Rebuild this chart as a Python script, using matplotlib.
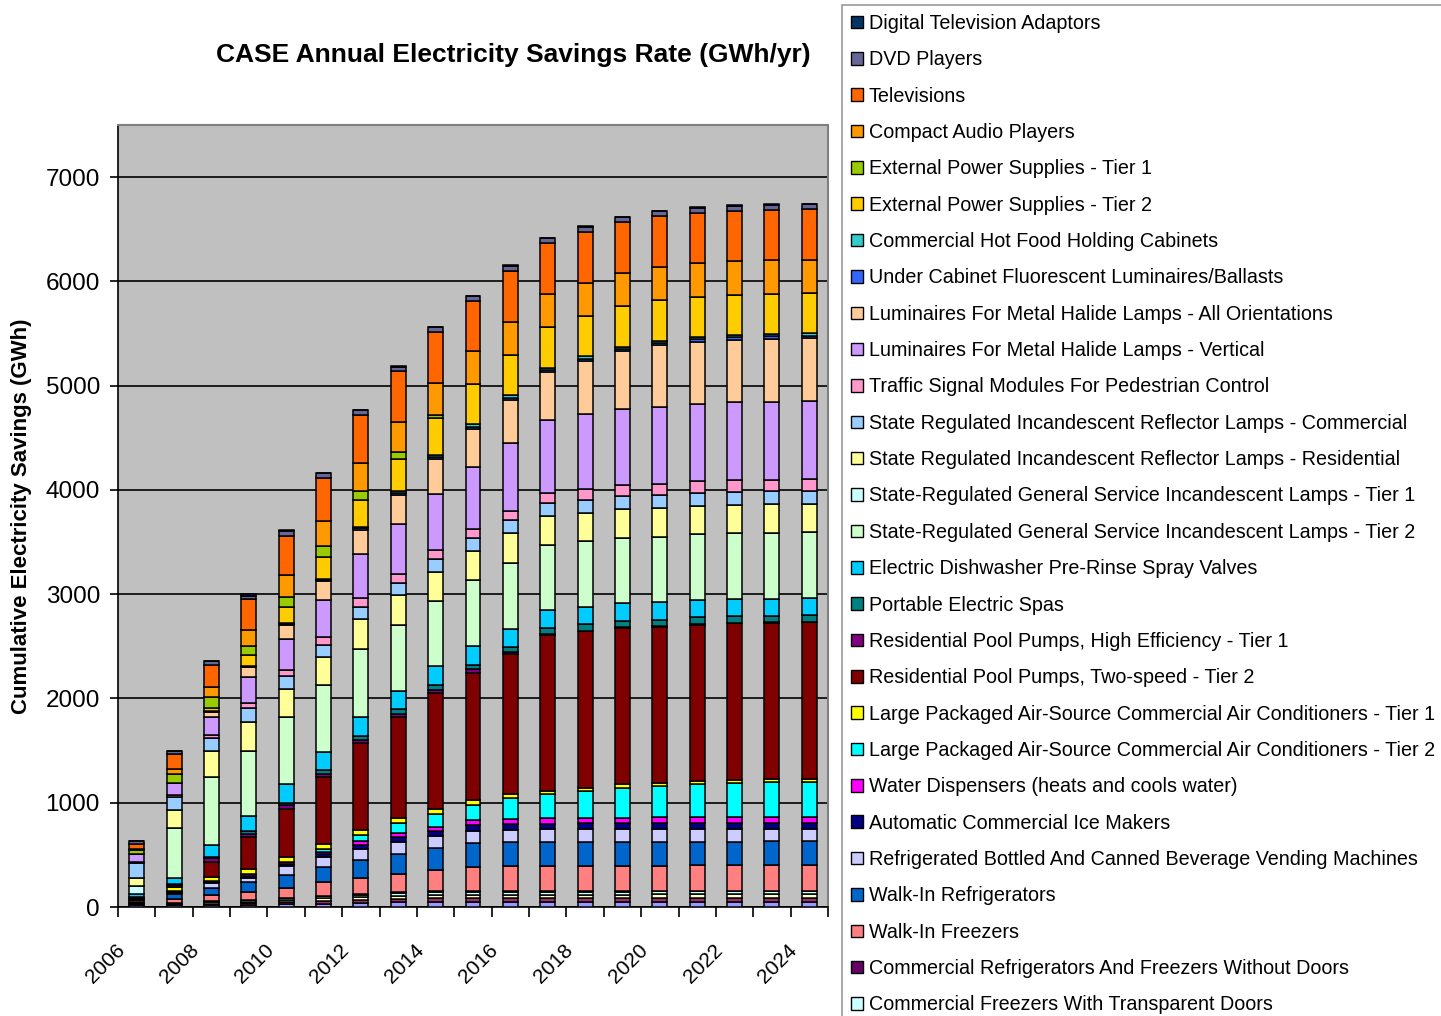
import numpy as np
import matplotlib.pyplot as plt
import matplotlib.transforms as mtransforms
from matplotlib.patches import Patch

plt.rcParams['font.family'] = ['Liberation Sans', 'DejaVu Sans']

years = list(range(2006, 2025))

# GWh per measure per year, stack order bottom -> top
peri = [15, 15, 20, 20, 26, 33, 38, 44, 47, 48, 48, 49, 49, 49, 50, 50, 50, 50, 50]
plum = [12, 8, 13, 17, 21, 27, 31, 35, 38, 39, 39, 39, 39, 39, 39, 39, 39, 39, 39]
cream = [10, 7, 11, 14, 18, 22, 25, 28, 30, 31, 31, 31, 31, 31, 31, 31, 31, 31, 31]
comm_freezers_transp = [8, 6, 10, 13, 17, 20, 23, 26, 28, 29, 29, 29, 29, 29, 29, 29, 29, 29, 29]
comm_refrig_no_doors = [5, 4, 5, 6, 8, 8, 8, 8, 8, 8, 8, 8, 8, 8, 8, 8, 8, 8, 8]
walkin_freezers = [15, 35, 55, 75, 97, 125, 157, 180, 205, 230, 235, 238, 240, 240, 241, 242, 242, 243, 243]
walkin_refrig = [15, 45, 72, 92, 122, 145, 172, 190, 210, 230, 230, 230, 230, 229, 229, 229, 229, 229, 229]
vending = [8, 15, 40, 45, 85, 95, 105, 108, 112, 115, 118, 120, 121, 122, 122, 123, 123, 123, 123]
ice_makers = [4, 10, 10, 15, 20, 30, 40, 48, 52, 55, 55, 55, 54, 54, 54, 53, 53, 53, 53]
water_disp = [4, 10, 10, 15, 20, 25, 30, 38, 42, 45, 50, 52, 54, 55, 56, 57, 58, 58, 58]
lpac_t2 = [0, 0, 0, 0, 0, 30, 65, 100, 120, 150, 200, 230, 260, 290, 300, 320, 330, 335, 340]
lpac_t1 = [4, 35, 45, 50, 45, 45, 45, 45, 45, 45, 40, 35, 30, 30, 28, 27, 27, 26, 26]
pool_t2 = [0, 0, 145, 305, 465, 640, 830, 970, 1115, 1220, 1340, 1495, 1500, 1500, 1500, 1500, 1500, 1500, 1501]
pool_t1 = [0, 25, 35, 35, 30, 30, 30, 30, 30, 35, 20, 5, 5, 5, 5, 5, 5, 5, 5]
spas = [0, 5, 12, 30, 25, 35, 45, 45, 45, 45, 50, 60, 62, 64, 65, 66, 66, 66, 66]
dishwasher = [20, 62, 110, 138, 180, 180, 180, 178, 180, 180, 175, 170, 168, 166, 165, 164, 164, 163, 163]
srgs_t2 = [0, 480, 650, 630, 640, 635, 650, 635, 630, 630, 635, 630, 628, 630, 630, 631, 631, 631, 631]
srgs_t1 = [85, 0, 0, 0, 0, 0, 0, 0, 0, 0, 0, 0, 0, 0, 0, 0, 0, 0, 0]
refl_res = [70, 165, 250, 270, 275, 275, 285, 280, 278, 280, 280, 275, 275, 274, 274, 274, 274, 274, 274]
refl_com = [150, 130, 125, 140, 117, 115, 120, 122, 124, 125, 125, 124, 123, 123, 123, 123, 123, 123, 123]
traffic = [10, 20, 35, 45, 65, 75, 85, 85, 85, 85, 90, 95, 100, 105, 108, 110, 111, 111, 111]
mh_vert = [75, 110, 170, 250, 290, 355, 420, 480, 540, 595, 655, 700, 720, 735, 742, 746, 748, 750, 750]
mh_all = [0, 0, 45, 92, 135, 180, 232, 280, 330, 365, 410, 460, 510, 550, 590, 595, 600, 603, 604]
under_cab = [0, 0, 5, 8, 10, 12, 15, 18, 20, 22, 22, 22, 22, 22, 22, 22, 22, 22, 22]
hot_food = [0, 0, 5, 7, 10, 12, 15, 18, 20, 22, 22, 22, 22, 22, 22, 22, 22, 22, 22]
eps_t2 = [0, 5, 35, 105, 155, 210, 262, 310, 355, 390, 390, 390, 390, 390, 389, 389, 389, 389, 389]
eps_t1 = [40, 85, 105, 85, 100, 100, 80, 60, 30, 0, 0, 0, 0, 0, 0, 0, 0, 0, 0]
audio = [10, 45, 95, 155, 205, 240, 272, 295, 310, 315, 318, 318, 318, 318, 318, 318, 318, 318, 318]
tvs = [45, 145, 210, 300, 380, 415, 460, 480, 485, 480, 485, 485, 485, 485, 485, 485, 485, 485, 485]
dvd = [30, 30, 35, 25, 45, 45, 45, 45, 45, 45, 48, 48, 49, 49, 49, 49, 49, 49, 49]
dtv = [0, 0, 0, 20, 5, 5, 5, 5, 5, 5, 5, 5, 5, 5, 5, 5, 5, 5, 5]

series = [
    (None, "#9999FF", peri),
    (None, "#993366", plum),
    (None, "#FFFFCC", cream),
    ("Commercial Freezers With Transparent Doors", "#CCFFFF", comm_freezers_transp),
    ("Commercial Refrigerators And Freezers Without Doors", "#660066", comm_refrig_no_doors),
    ("Walk-In Freezers", "#FF8080", walkin_freezers),
    ("Walk-In Refrigerators", "#0066CC", walkin_refrig),
    ("Refrigerated Bottled And Canned Beverage Vending Machines", "#CCCCFF", vending),
    ("Automatic Commercial Ice Makers", "#000080", ice_makers),
    ("Water Dispensers (heats and cools water)", "#FF00FF", water_disp),
    ("Large Packaged Air-Source Commercial Air Conditioners - Tier 2", "#00FFFF", lpac_t2),
    ("Large Packaged Air-Source Commercial Air Conditioners - Tier 1", "#FFFF00", lpac_t1),
    ("Residential Pool Pumps, Two-speed - Tier 2", "#800000", pool_t2),
    ("Residential Pool Pumps, High Efficiency - Tier 1", "#800080", pool_t1),
    ("Portable Electric Spas", "#008080", spas),
    ("Electric Dishwasher Pre-Rinse Spray Valves", "#00CCFF", dishwasher),
    ("State-Regulated General Service Incandescent Lamps - Tier 2", "#CCFFCC", srgs_t2),
    ("State-Regulated General Service Incandescent Lamps - Tier 1", "#CCFFFF", srgs_t1),
    ("State Regulated Incandescent Reflector Lamps - Residential", "#FFFF99", refl_res),
    ("State Regulated Incandescent Reflector Lamps - Commercial", "#99CCFF", refl_com),
    ("Traffic Signal Modules For Pedestrian Control", "#FF99CC", traffic),
    ("Luminaires For Metal Halide Lamps - Vertical", "#CC99FF", mh_vert),
    ("Luminaires For Metal Halide Lamps - All Orientations", "#FFCC99", mh_all),
    ("Under Cabinet Fluorescent Luminaires/Ballasts", "#3366FF", under_cab),
    ("Commercial Hot Food Holding Cabinets", "#33CCCC", hot_food),
    ("External Power Supplies - Tier 2", "#FFCC00", eps_t2),
    ("External Power Supplies - Tier 1", "#99CC00", eps_t1),
    ("Compact Audio Players", "#FF9900", audio),
    ("Televisions", "#FF6600", tvs),
    ("DVD Players", "#666699", dvd),
    ("Digital Television Adaptors", "#003366", dtv),
]

fig = plt.figure(figsize=(14.41, 10.16), dpi=100)
ax = fig.add_axes([118 / 1441, 1 - 907 / 1016, 710 / 1441, 782 / 1016])
ax.set_facecolor("#C0C0C0")

x = np.arange(len(years))
bottom = np.zeros(len(years))
handles = []
for label, color, vals in series:
    vals = np.array(vals, dtype=float)
    ax.bar(x, vals, width=0.4, bottom=bottom, color=color,
           edgecolor="black", linewidth=1.1, zorder=3)
    bottom += vals
    if label:
        handles.append(Patch(facecolor=color, edgecolor="black", linewidth=1.0, label=label))

ax.set_xlim(-0.5, len(years) - 0.5)
ax.set_ylim(0, 7500)
ax.set_yticks(range(0, 7001, 1000))
ax.yaxis.grid(True, color="black", linewidth=1.2, zorder=1)
ax.tick_params(axis="y", labelsize=17.5, length=6, width=1.2, direction="out", pad=7)

ax.set_xticks(np.arange(-0.5, len(years), 1))
ax.set_xticklabels([])
ax.tick_params(axis="x", which="major", length=7, width=1.2, direction="out")
ax.set_xticks(x[::2], minor=True)
ax.set_xticklabels([str(y) for y in years[::2]], minor=True, rotation=45,
                   ha="right", va="center", rotation_mode="anchor", fontsize=15)
ax.tick_params(axis="x", which="minor", length=0, pad=18)
shift = mtransforms.ScaledTranslation(-15 / 100, -15 / 100, fig.dpi_scale_trans)
for lab in ax.get_xticklabels(minor=True):
    lab.set_transform(lab.get_transform() + shift)

for side in ["left", "bottom"]:
    ax.spines[side].set_color("black")
    ax.spines[side].set_linewidth(1.2)
for side in ["top", "right"]:
    ax.spines[side].set_color("#808080")
    ax.spines[side].set_linewidth(1.5)

ax.set_ylabel("Cumulative Electricity Savings (GWh)", fontsize=16, fontweight="bold")
ax.yaxis.set_label_coords(-0.121, 0.5)
fig.text(513 / 1441, 1 - 55 / 1016, "CASE Annual Electricity Savings Rate (GWh/yr)",
         ha="center", va="center", fontsize=19, fontweight="bold")

leg = fig.legend(handles=handles[::-1], loc="upper left",
                 bbox_to_anchor=(842 / 1441, 1 - 5 / 1016), frameon=True, fancybox=False,
                 fontsize=14.2, handlelength=0.6, handleheight=0.6, handletextpad=0.3,
                 labelspacing=0.88, borderpad=0.45, borderaxespad=0)
leg.get_frame().set_edgecolor("#808080")
leg.get_frame().set_linewidth(1.2)

fig.savefig("out.png", dpi=100)
